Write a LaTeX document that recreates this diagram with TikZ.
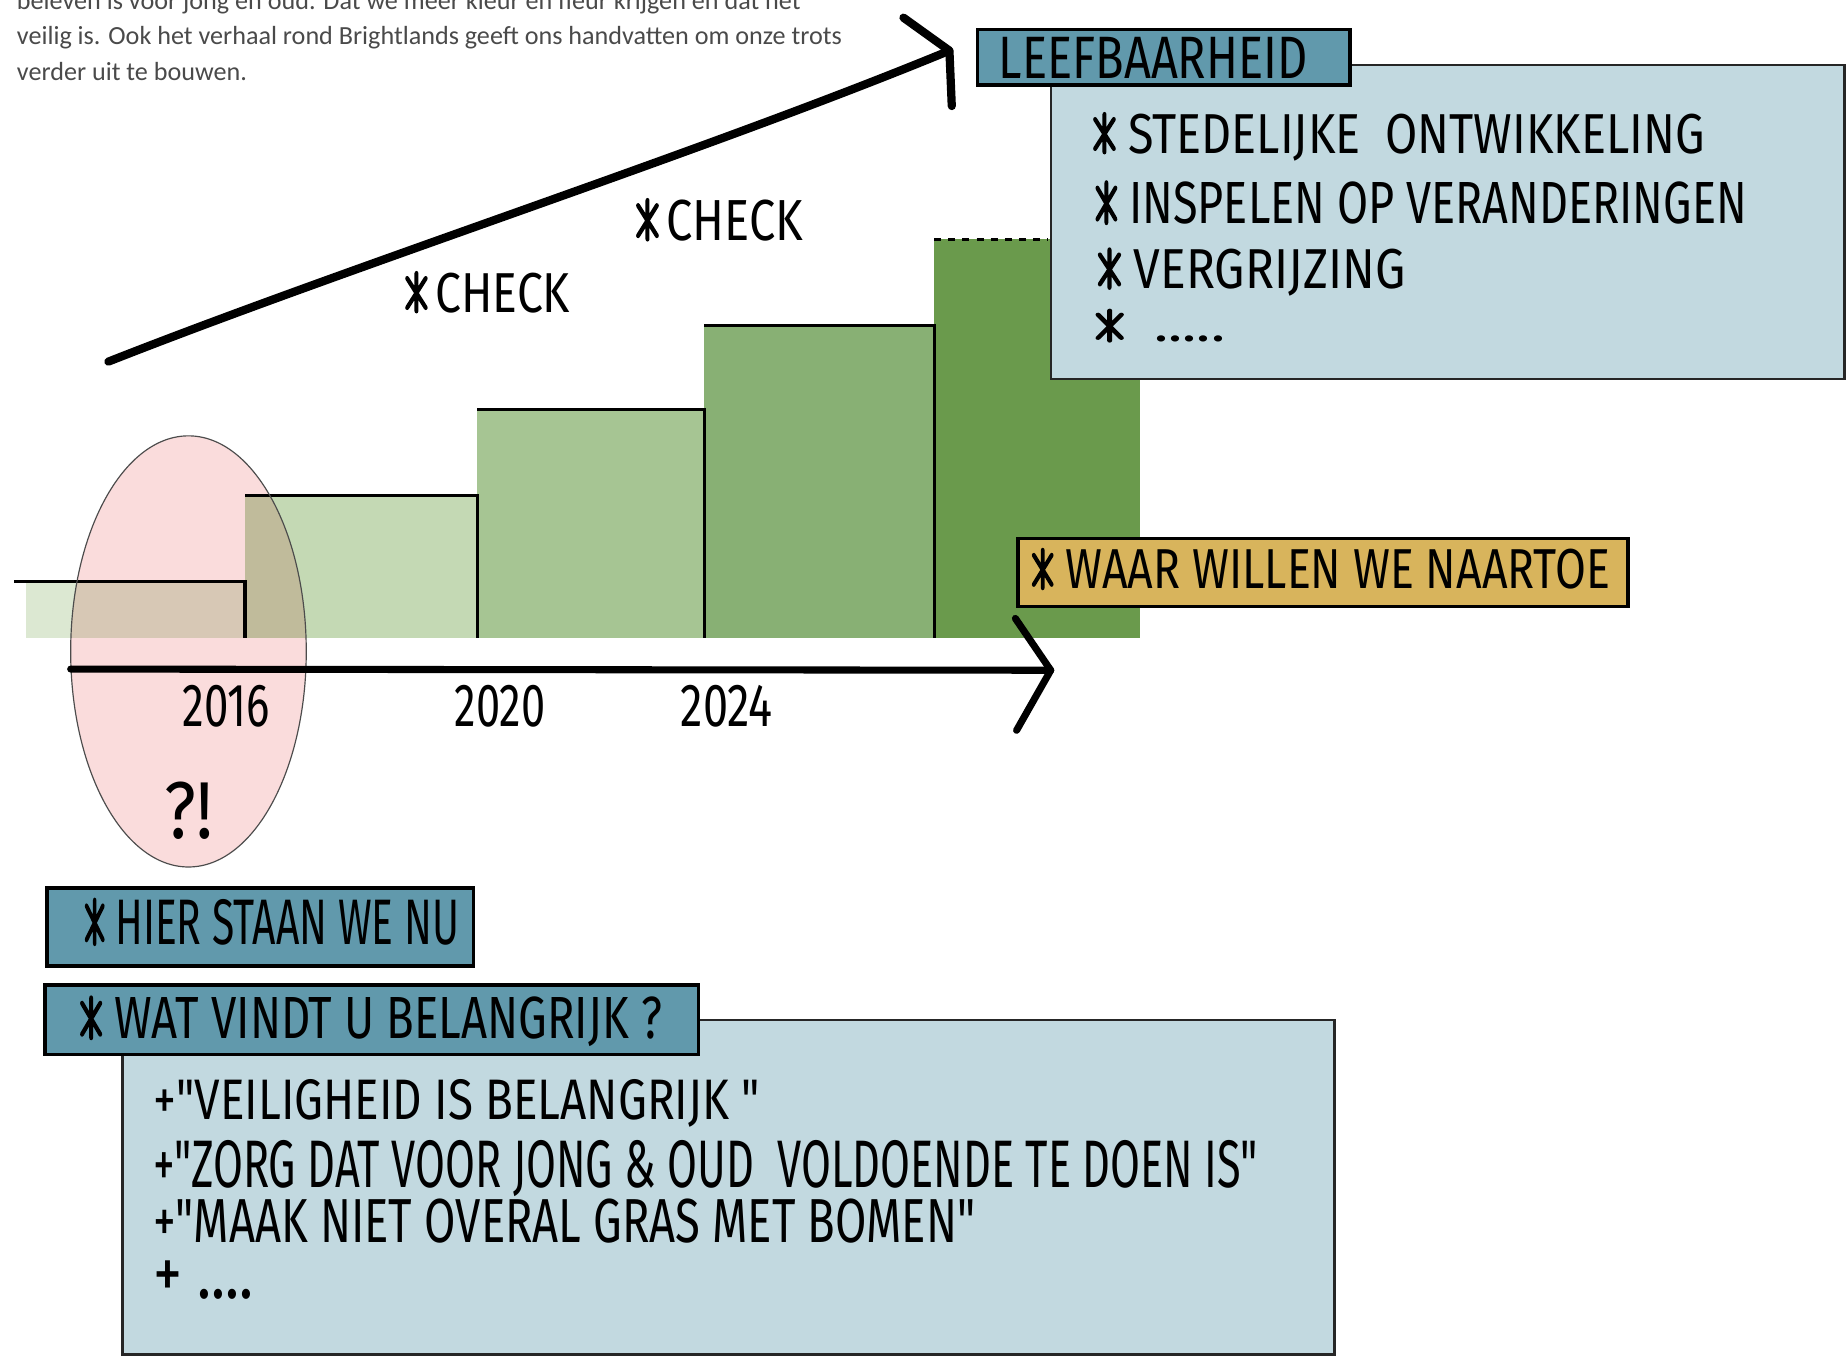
\documentclass[tikz,border=0pt]{standalone}
\usepackage{fontspec}
\usepackage{graphicx}
\setmainfont{Carlito}
\newfontfamily\hand{Fira Sans}
\definecolor{tealtab}{HTML}{6199AC}
\definecolor{lightbox}{HTML}{C2D9E0}
\definecolor{mustard}{HTML}{D8B45C}
\definecolor{gA}{HTML}{DCE8D2}
\definecolor{gB}{HTML}{C4D9B4}
\definecolor{gC}{HTML}{A6C593}
\definecolor{gD}{HTML}{88B074}
\definecolor{gE}{HTML}{6A9A4C}
\definecolor{pinkfill}{HTML}{FADCDC}
\definecolor{paratext}{HTML}{4A4A4A}
\newcommand\hwtext[3]{\resizebox{#1pt}{#2pt}{\hand #3}}
\newcommand\bul{\tikz[x=1em,y=1em,baseline=0pt,line width=0.085em,line cap=round]{\draw (0.22,0.02)--(0.22,0.69) (0.02,0.08)--(0.42,0.6) (0.02,0.6)--(0.42,0.08);}}
\tikzset{
  hwn/.style={anchor=base west, inner sep=0pt, outer sep=0pt},
  para/.style={anchor=base west, inner sep=0pt, text=paratext, font=\fontsize{11.1}{13}\selectfont},
  tabbox/.style={draw=black, line width=1.5pt, fill=tealtab},
  bigbox/.style={draw=black!85, line width=1pt, fill=lightbox},
  barline/.style={draw=black, line width=1.3pt},
  thick stroke/.style={draw=black, line width=3.5pt, line cap=round, line join=round},
}
\begin{document}
\begin{tikzpicture}[x=0.5pt, y=-0.5pt]
\clip (0,0) rectangle (1568,1153);
\fill[white] (0,0) rectangle (1568,1153);

% paragraph
\node[para] (p1) at (14,8) {beleven is voor jong en oud. Dat we meer kleur en fleur krijgen en dat het};
\node[para] (p2) at (14,38) {veilig is. Ook het verhaal rond Brightlands geeft ons handvatten om onze trots};
\node[para] (p3) at (14,68) {verder uit te bouwen.};

% bars
\fill[gA] (22,494) rectangle (208,542);
\fill[gB] (208,421) rectangle (405,542);
\fill[gC] (405,348) rectangle (598,542);
\fill[gD] (598,276) rectangle (793,542);
\fill[gE] (793,203) rectangle (968,542);
\draw[barline] (12,494) -- (208,494) -- (208,542);
\draw[barline] (208,421) -- (405,421) -- (405,542);
\draw[barline] (405,348) -- (598,348) -- (598,542);
\draw[barline] (598,276) -- (793,276) -- (793,542);
\draw[barline, dashed] (793,203) -- (890,203);

% ellipse
\begin{scope}[blend mode=multiply]
\fill[pinkfill] (160,553) ellipse [x radius=100, y radius=183];
\end{scope}
\draw[black!70, line width=0.5pt] (160,553) ellipse [x radius=100, y radius=183];

% time axis
\coordinate (axstart) at (60,568);
\coordinate (axtip) at (892,569);
\coordinate (axup) at (862,525);
\coordinate (axdown) at (863,620);
\draw[thick stroke, line width=3pt] (axstart) -- (axtip);
\draw[thick stroke, line width=3pt] (axup) -- (axtip) -- (axdown);

% rising line
\coordinate (rstart) at (92,307);
\coordinate (rtip) at (806,43);
\coordinate (rup) at (767,15);
\coordinate (rdown) at (808,90);
\draw[thick stroke] (rstart) .. controls (300,225) and (600,128) .. (rtip);
\draw[thick stroke] (rup) -- (rtip) -- (rdown);

\node[hwn] (check1) at (540,204) {\hwtext{71}{18}{\bul\,CHECK}};
\node[hwn] (check2) at (344,265) {\hwtext{70}{17.5}{\bul\,CHECK}};

% top right box
\draw[bigbox] (892,55) rectangle (1566,322);
\draw[tabbox] (830,25) rectangle (1146,72);
\node[hwn] (leef) at (848,67) {\hwtext{131}{17.5}{LEEFBAARHEID}};
\node[hwn] (l1) at (928,130) {\hwtext{259.5}{17.5}{\bul\ STEDELIJKE\ \ ONTWIKKELING}};
\node[hwn] (l2) at (930,190) {\hwtext{276.5}{18.5}{\bul\ INSPELEN OP VERANDERINGEN}};
\node[hwn] (l3) at (932,245) {\hwtext{130.5}{17.5}{\bul\ VERGRIJZING}};
\node[hwn] (l4) at (930,290) {\hwtext{55}{14}{\bul\ \ .....}};

% waar box
\draw[tabbox, fill=mustard] (864,457) rectangle (1382,515);
\node[hwn] (waar) at (876,500) {\hwtext{245.5}{17.5}{\bul\ WAAR WILLEN\ WE NAARTOE}};

% years
\node[hwn] (y16) at (155,617) {\hwtext{37}{17.5}{2016}};
\node[hwn] (y20) at (386,617) {\hwtext{38.5}{17.5}{2020}};
\node[hwn] (y24) at (578,617) {\hwtext{39}{17.5}{2024}};
\node[hwn] (qe) at (140,712) {\hwtext{20.5}{24}{?!}};

% bottom boxes
\draw[tabbox] (40,754) rectangle (402,820);
\node[hwn] (hier) at (72,802) {\hwtext{159}{20}{\bul\ HIER STAAN WE NU}};
\draw[bigbox] (104,866) rectangle (1133,1150);
\draw[tabbox] (38,836) rectangle (593,895);
\node[hwn] (wat) at (68,882) {\hwtext{247}{18.5}{\bul\ WAT VINDT U BELANGRIJK ?}};
\node[hwn] (b1) at (130,950) {\hwtext{257.5}{17}{+"VEILIGHEID IS BELANGRIJK "}};
\node[hwn] (b2) at (130,1008) {\hwtext{469}{20}{+"ZORG DAT VOOR JONG \& OUD\ \ VOLDOENDE TE DOEN IS"}};
\node[hwn] (b3) at (130,1055) {\hwtext{349}{18.5}{+"MAAK NIET OVERAL GRAS MET BOMEN"}};
\node[hwn] (b4) at (130,1102) {\hwtext{42.5}{16}{+ ....}};
\end{tikzpicture}
\end{document}
